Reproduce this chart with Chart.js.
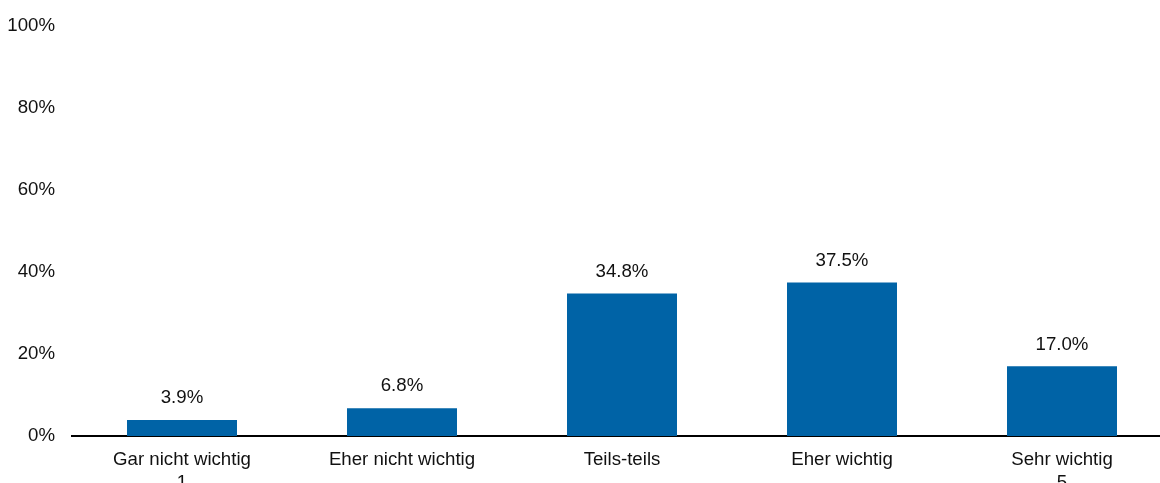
<!DOCTYPE html>
<html>
<head>
<meta charset="utf-8">
<script src="https://cdn.jsdelivr.net/npm/chart.js@4/dist/chart.umd.min.js"></script>
<style>
  html, body { margin: 0; padding: 0; background: #fff; overflow: hidden; }
  #wrap { width: 1180px; height: 483px; }
</style>
</head>
<body>
<div id="wrap"><canvas id="c" width="1180" height="483"></canvas></div>
<script>
const categories = [
  ['Gar nicht wichtig', '1'],
  'Eher nicht wichtig',
  'Teils-teils',
  'Eher wichtig',
  ['Sehr wichtig', '5']
];
const shares = [3.9, 6.8, 34.8, 37.5, 17.0];
const yTicks = [0, 20, 40, 60, 80, 100];

const FAMILY = '"Liberation Sans", Arial, sans-serif';
const X_FONT = { family: FAMILY, size: 18.67, lineHeight: 1.25 };
const Y_FONT = { family: FAMILY, size: 18.67, lineHeight: 1.0 };
const TEXT = '#111';

// Percent labels above each bar
const valueLabels = {
  id: 'valueLabels',
  afterDatasetsDraw(chart) {
    const ctx = chart.ctx;
    const meta = chart.getDatasetMeta(0);
    ctx.save();
    ctx.font = `${X_FONT.size}px ${FAMILY}`;
    ctx.fillStyle = TEXT;
    ctx.textAlign = 'center';
    ctx.textBaseline = 'middle';
    meta.data.forEach((bar, i) => {
      ctx.fillText(shares[i].toFixed(1) + '%', bar.x, bar.y - 22);
    });
    ctx.restore();
  }
};

new Chart(document.getElementById('c'), {
  type: 'bar',
  data: {
    labels: categories,
    datasets: [{
      data: shares,
      backgroundColor: '#0063A6',
      borderWidth: 0,
      categoryPercentage: 1,
      barPercentage: 0.5
    }]
  },
  options: {
    responsive: false,
    animation: false,
    layout: { padding: { top: 25, right: 8, bottom: 0, left: 0 } },
    plugins: { legend: { display: false }, tooltip: { enabled: false } },
    scales: {
      x: {
        grid: { display: false, drawTicks: false },
        border: { display: true, color: '#000', width: 2 },
        ticks: { color: TEXT, font: X_FONT, padding: 12, maxRotation: 0, autoSkip: false },
        afterFit(scale) { scale.height = 47; }
      },
      y: {
        min: 0,
        max: 100,
        grid: { display: false, drawTicks: false },
        border: { display: false },
        afterBuildTicks(scale) { scale.ticks = yTicks.map(v => ({ value: v })); },
        ticks: {
          color: TEXT,
          font: Y_FONT,
          padding: 17,
          callback: v => v + '%'
        },
        afterFit(scale) { scale.width = 72; }
      }
    }
  },
  plugins: [valueLabels]
});
</script>
</body>
</html>
